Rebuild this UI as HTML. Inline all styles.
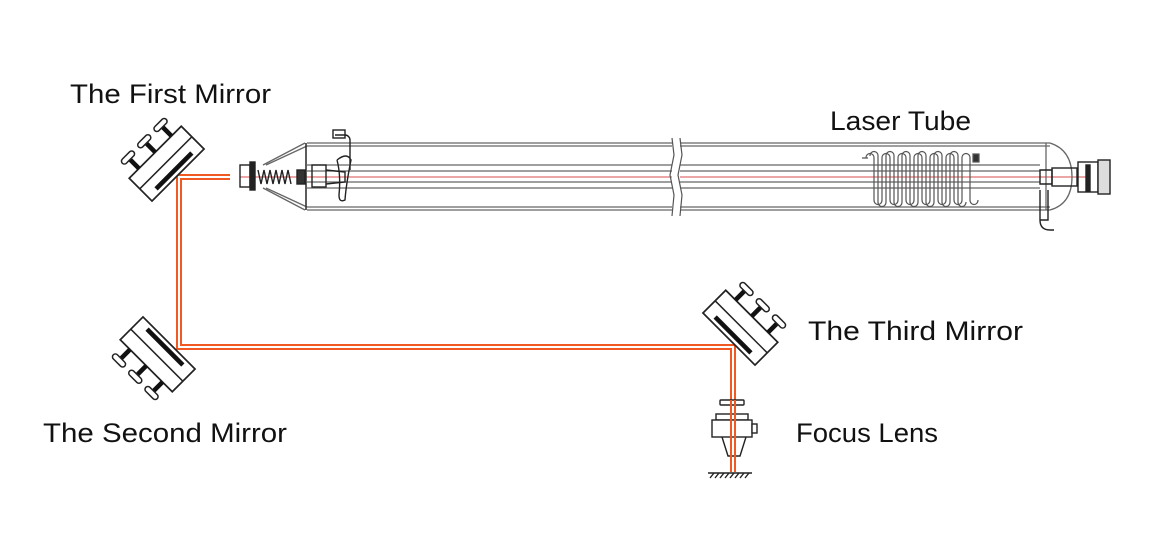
<!DOCTYPE html>
<html><head><style>body{margin:0;background:#fff}svg{display:block}text{font-family:"Liberation Sans",sans-serif;font-size:27px;fill:#111}</style></head>
<body>
<svg width="1160" height="541" viewBox="0 0 1160 541">
<defs>
<g id="mir">
  <rect x="-32" y="-12" width="64" height="28" fill="#fff" stroke="#222" stroke-width="1.5"/>
  <line x1="-32" y1="1" x2="32" y2="1" stroke="#222" stroke-width="1.3"/>
  <rect x="-22" y="9" width="44" height="4" fill="#111"/>
  <g stroke="#111" stroke-width="4"><line x1="-20" y1="-12" x2="-20" y2="-23"/><line x1="0" y1="-12" x2="0" y2="-23"/><line x1="20" y1="-12" x2="20" y2="-23"/></g>
  <g fill="#fff" stroke="#222" stroke-width="1.3"><rect x="-27" y="-28" width="14" height="5" rx="2.5"/><rect x="-7" y="-28" width="14" height="5" rx="2.5"/><rect x="13" y="-28" width="14" height="5" rx="2.5"/></g>
</g>
</defs>
<g stroke="#666" fill="none" stroke-width="1.3">
  <line x1="307" y1="143" x2="1050" y2="143"/><line x1="307" y1="146" x2="1050" y2="146"/>
  <line x1="307" y1="207" x2="1050" y2="207"/><line x1="307" y1="210" x2="1050" y2="210"/>
  <line x1="307" y1="165" x2="1040" y2="165"/><line x1="307" y1="171" x2="1040" y2="171"/>
  <line x1="307" y1="182" x2="1040" y2="182"/><line x1="307" y1="188" x2="1040" y2="188"/>
  <line x1="240" y1="177" x2="1090" y2="177" stroke="#e07070"/>
  <path d="M263 165 L305 143 M263 188 L305 210 M266 165 L307 146 M266 188 L307 207"/>
  <line x1="306" y1="143" x2="306" y2="210" stroke="#333" stroke-width="1.6"/>
  <path d="M1050 143 Q1072 150 1072 177 Q1072 204 1050 210"/>
  <line x1="1046" y1="143" x2="1046" y2="210"/>
</g>
<rect x="672" y="138" width="8" height="78" fill="#fff"/>
<path d="M672 138 L674 155 L670 175 L674 195 L672 216 M680 138 L682 155 L678 175 L682 195 L680 216" stroke="#555" fill="none" stroke-width="1.2"/>
<g stroke="#222" fill="none" stroke-width="1.4">
  <rect x="240" y="165" width="10" height="22"/><rect x="250" y="162" width="5" height="28" fill="#222"/>
  <path d="M258 170 l3 14 l3 -14 l3 14 l3 -14 l3 14 l3 -14 l3 14 l3 -14 l3 14 l3 -14 l3 14"/>
  <rect x="297" y="170" width="8" height="14" fill="#333"/>
  <rect x="312" y="165" width="14" height="22"/><path d="M326 170 L345 172 L345 182 L326 184"/>
  <path d="M335 135 h10 a5 5 0 0 1 5 5 v30 M337 160 q10 -8 14 0 q-5 25 -6 40 q-6 3 -6 -5 q2 -20 -2 -35"/>
  <rect x="333" y="130" width="12" height="8"/>
</g>
<g stroke="#555" fill="none" stroke-width="1.2">
  <path d="M862 158 h6 M866 158 c0 -6 8 -6 8 0 v42 c0 6 8 6 8 0 v-42 c0 -6 8 -6 8 0 v42 c0 6 8 6 8 0 v-42 c0 -6 8 -6 8 0 v42 c0 6 8 6 8 0 v-42 c0 -6 8 -6 8 0 v42 c0 6 8 6 8 0 v-42 c0 -6 8 -6 8 0 v42 c0 6 8 6 8 0 v-42 c0 -6 8 -6 8 0 v42 c0 6 8 6 8 0 v-42 c0 -6 8 -6 8 0 v42 c0 6 8 6 8 0"/>
  <path d="M870 156 c0 -6 8 -6 8 0 v46 c0 6 8 6 8 0 v-46 c0 -6 8 -6 8 0 v46 c0 6 8 6 8 0 v-46 c0 -6 8 -6 8 0 v46 c0 6 8 6 8 0 v-46 c0 -6 8 -6 8 0 v46 c0 6 8 6 8 0 v-46 c0 -6 8 -6 8 0 v46 c0 6 8 6 8 0 v-46 c0 -6 8 -6 8 0 v46 c0 6 8 6 8 0"/>
  <rect x="973" y="154" width="6" height="8" fill="#333"/>
</g>
<g stroke="#222" fill="none" stroke-width="1.4">
  <path d="M1040 170 h12 v14 h-12 z M1040 190 v30 h8 v-30 M1040 220 q0 10 10 10 h4"/>
  <rect x="1052" y="168" width="25" height="18"/>
  <rect x="1078" y="162" width="20" height="30"/>
  <rect x="1098" y="160" width="12" height="34" fill="#ddd"/>
  <rect x="1086" y="165" width="4" height="26" fill="#222"/>
</g>
<g stroke="#f05a22" stroke-width="2" fill="none">
  <path d="M230 175 H177 V349 H731 V472"/>
  <path d="M230 179 H181 V345 H735 V472"/>
</g>
<use href="#mir" transform="translate(165,162) rotate(-45) scale(1.15)"/>
<use href="#mir" transform="translate(156,356) rotate(-135) scale(1.15)"/>
<use href="#mir" transform="translate(742,326) rotate(45) scale(1.15)"/>
<g stroke="#222" fill="#fff" stroke-width="1.4">
  <rect x="720" y="400" width="24" height="5" rx="1"/>
  <rect x="716" y="414" width="32" height="6"/>
  <rect x="712" y="420" width="40" height="17"/>
  <rect x="752" y="424" width="5" height="9"/>
  <path d="M722 437 L728 456 H740 L746 437" fill="none"/>
  <line x1="708" y1="473" x2="752" y2="473"/>
  <path d="M710 478 l4 -5 M715 478 l4 -5 M720 478 l4 -5 M725 478 l4 -5 M730 478 l4 -5 M735 478 l4 -5 M740 478 l4 -5 M745 478 l4 -5" fill="none"/>
</g>
<g stroke="#f05a22" stroke-width="2"><line x1="731" y1="400" x2="731" y2="472"/><line x1="735" y1="400" x2="735" y2="472"/></g>
<text x="70" y="103" textLength="201" lengthAdjust="spacingAndGlyphs">The First Mirror</text>
<text x="830" y="130" textLength="141" lengthAdjust="spacingAndGlyphs">Laser Tube</text>
<text x="808" y="340" textLength="215" lengthAdjust="spacingAndGlyphs">The Third Mirror</text>
<text x="43" y="442" textLength="244" lengthAdjust="spacingAndGlyphs">The Second Mirror</text>
<text x="796" y="442" textLength="142" lengthAdjust="spacingAndGlyphs">Focus Lens</text>
</svg>
</body></html>
